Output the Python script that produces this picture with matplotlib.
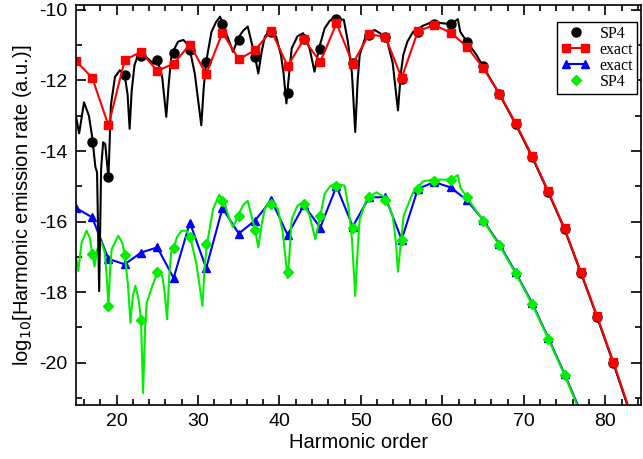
import numpy as np
import matplotlib
matplotlib.use('Agg')
import matplotlib.pyplot as plt
from matplotlib.legend_handler import HandlerLine2D

plt.rcParams['font.family'] = ['Liberation Sans', 'DejaVu Sans']
plt.rcParams['axes.unicode_minus'] = False

# harmonicos impares
orden_rojo = [15, 17, 19, 21, 23, 25, 27, 29, 31, 33, 35, 37, 39, 41, 43, 45, 47, 49,
              51, 53, 55, 57, 59, 61, 63, 65, 67, 69, 71, 73, 75, 77, 79, 81, 83]
exacto_rojo = [-11.45, -11.92, -13.27, -11.42, -11.19, -11.73, -11.52, -10.98, -11.82,
               -10.64, -11.40, -11.14, -10.59, -11.59, -10.83, -11.48, -10.38, -11.52,
               -10.69, -10.76, -11.93, -10.60, -10.43, -10.64, -11.04, -11.64, -12.37,
               -13.21, -14.13, -15.14, -16.19, -17.42, -18.68, -19.98, -21.35]

orden_negro = [17, 19, 21, 23, 25, 27, 29, 31, 33, 35, 37, 39, 41, 43, 45, 47, 49, 51,
               53, 55, 57, 59, 61, 63, 65, 67, 69, 71, 73, 75, 77, 79, 81, 83]
sp4_negro = [-13.73, -14.74, -11.85, -11.30, -11.42, -11.23, -11.14, -11.47, -10.40,
             -10.85, -11.33, -10.62, -12.35, -10.82, -11.11, -10.26, -11.50, -10.70,
             -10.78, -11.95, -10.62, -10.40, -10.40, -10.92, -11.60, -12.39, -13.24,
             -14.16, -15.17, -16.22, -17.45, -18.71, -20.02, -21.40]

# curva continua SP4 (arriba)
x_negro = [15.0, 15.4, 16.0, 16.6, 17.0, 17.4, 17.6, 17.86, 18.1, 18.35, 18.6, 18.85,
           19.0, 19.3, 19.8, 20.4, 21.0, 21.35, 21.6, 21.85, 22.2, 22.6, 23.05, 23.8,
           24.5, 25.0, 25.6, 26.1, 26.4, 26.7, 27.1, 27.55, 28.2, 28.6, 29.0, 29.6,
           30.4, 30.7, 31.0, 31.65, 32.2, 32.7, 33.0, 33.7, 34.3, 34.9, 35.5, 36.1,
           36.55, 37.0, 37.4, 37.8, 38.2, 38.9, 39.6, 40.2, 40.5, 40.85, 41.1, 41.5,
           42.2, 42.9, 43.7, 44.3, 44.85, 45.55, 46.2, 46.8, 47.3, 47.9, 48.4, 48.9,
           49.3, 49.6, 49.85, 50.7, 51.7, 52.7, 53.3, 53.9, 54.55, 54.9, 55.2, 55.7,
           56.4, 57.6, 58.85, 60.1, 61.0, 61.5, 61.9, 62.2, 63.0, 64.2, 65.0, 67.0,
           69.0, 71.0, 73.0, 75.0, 77.0, 79.0, 81.0, 83.0]
y_negro = [-13.0, -13.5, -12.62, -13.0, -13.6, -14.46, -14.6, -17.97, -14.5, -13.75,
           -13.8, -14.4, -14.76, -12.7, -11.9, -11.71, -11.85, -12.4, -13.37, -12.3,
           -11.56, -11.3, -11.23, -11.37, -11.52, -11.42, -11.9, -13.03, -12.1, -11.37,
           -11.1, -10.9, -10.85, -10.95, -11.14, -11.8, -13.27, -12.2, -11.47, -10.62,
           -10.35, -10.19, -10.38, -10.81, -11.19, -10.81, -10.6, -10.47, -10.9, -11.33,
           -11.8, -11.2, -10.76, -10.57, -10.76, -11.3, -11.8, -12.65, -12.0, -11.09,
           -10.75, -10.66, -11.09, -11.75, -11.09, -10.52, -10.3, -10.22, -10.26, -10.28,
           -10.9, -11.8, -13.46, -12.0, -11.28, -10.66, -10.57, -10.71, -10.95, -11.5,
           -12.85, -11.8, -11.28, -10.9, -10.62, -10.45, -10.33, -10.38, -10.40, -10.33,
           -10.26, -10.62, -10.9, -11.28, -11.6, -12.39, -13.24, -14.16, -15.17, -16.22,
           -17.45, -18.71, -20.02, -21.40]

orden_azul = [15, 17, 19, 21, 23, 25, 27, 29, 31, 33, 35, 37, 39, 41, 43, 45, 47, 49,
              51, 53, 55, 57, 59, 61, 63, 65, 67, 69, 71, 73, 75, 77]
exacto_azul = [-15.61, -15.88, -17.06, -17.21, -16.88, -16.73, -17.60, -16.03, -17.32,
               -15.62, -16.34, -15.97, -15.39, -16.38, -15.53, -16.17, -15.00, -16.14,
               -15.31, -15.31, -16.51, -15.07, -14.88, -15.03, -15.39, -15.95, -16.64,
               -17.44, -18.30, -19.29, -20.32, -21.40]

orden_verde = [17, 19, 21, 23, 25, 27, 29, 31, 33, 35, 37, 39, 41, 43, 45, 47, 49, 51,
               53, 55, 57, 59, 61, 63, 65, 67, 69, 71, 73, 75, 77]
sp4_verde = [-16.92, -18.39, -16.94, -18.79, -17.42, -16.76, -16.43, -16.64, -15.41,
             -15.83, -16.23, -15.50, -17.44, -15.50, -15.85, -14.98, -16.19, -15.31,
             -15.39, -16.51, -15.07, -14.84, -14.81, -15.31, -15.97, -16.67, -17.47,
             -18.33, -19.32, -20.35, -21.45]

# curva continua SP4 (abajo)
x_verde = [15.0, 15.3, 15.7, 16.3, 16.7, 17.0, 17.3, 17.6, 18.1, 18.55, 18.8, 19.0,
           19.2, 19.4, 20.2, 20.7, 21.0, 21.4, 21.7, 22.0, 22.3, 22.7, 23.0, 23.25,
           23.5, 23.7, 24.4, 25.1, 25.6, 25.9, 26.2, 26.45, 26.7, 27.0, 27.4, 27.95,
           28.6, 29.2, 29.8, 30.55, 30.8, 31.1, 31.85, 32.6, 33.3, 33.8, 34.3, 34.9,
           35.5, 36.1, 36.55, 37.0, 37.4, 37.8, 38.2, 39.0, 39.8, 40.4, 41.0, 41.2,
           41.5, 42.2, 42.9, 43.7, 44.4, 45.0, 45.55, 46.2, 46.8, 48.0, 48.5, 48.9,
           49.3, 49.6, 49.85, 50.7, 51.9, 52.9, 53.9, 54.3, 54.55, 54.9, 55.25, 56.4,
           57.6, 58.85, 60.1, 61.0, 61.5, 61.9, 62.2, 63.0, 65.0, 67.0, 69.0, 71.0,
           73.0, 75.0, 77.0]
y_verde = [-16.97, -17.40, -16.6, -16.26, -16.45, -16.9, -17.27, -16.8, -16.57, -16.88,
           -17.6, -18.39, -17.4, -16.78, -16.40, -16.6, -16.94, -17.8, -18.87, -18.1,
           -17.82, -18.2, -18.79, -20.86, -19.0, -18.3, -17.82, -17.37, -17.54, -18.0,
           -18.77, -17.6, -16.88, -16.76, -16.45, -16.26, -16.26, -16.59, -17.2, -18.39,
           -17.3, -16.64, -15.64, -15.24, -15.5, -15.9, -16.16, -15.83, -15.55, -15.41,
           -15.83, -16.23, -16.73, -16.1, -15.64, -15.43, -15.64, -16.3, -17.6, -17.0,
           -15.93, -15.55, -15.45, -15.83, -16.5, -15.85, -15.21, -15.0, -14.93, -14.98,
           -15.64, -16.5, -18.11, -16.8, -15.93, -15.36, -15.17, -15.31, -15.83, -16.6,
           -17.42, -16.6, -15.83, -15.17, -14.86, -14.81, -14.81, -14.81, -14.74, -14.68,
           -15.03, -15.31, -15.97, -16.67, -17.47, -18.33, -19.32, -20.35, -21.45]

fig = plt.figure(figsize=(6.43, 4.59), dpi=100)
ax = fig.add_axes([0.118, 0.1176, 0.879, 0.8715])

# abajo
azul, = ax.plot(orden_azul, exacto_azul, color='#0000ff', lw=1.5, marker='^', ms=6, label='exact')
ax.plot(x_verde, y_verde, color='#00ee00', lw=1.5)
verde, = ax.plot(orden_verde, sp4_verde, ls='none', color='#00ee00', marker='D', ms=5, label='SP4')

# arriba
ax.plot(x_negro, y_negro, color='black', lw=1.5)
negro, = ax.plot(orden_negro, sp4_negro, ls='none', color='black', marker='o', ms=6.5, label='SP4')
rojo, = ax.plot(orden_rojo, exacto_rojo, color='#ff0000', lw=1.5, marker='s', ms=6, label='exact')

ax.set_xlim(15, 84.4)
ax.set_ylim(-21.2, -9.86)
ax.set_xticks([20, 30, 40, 50, 60, 70, 80])
ax.set_xticks(np.arange(16, 85, 2), minor=True)
ax.set_yticks([-20, -18, -16, -14, -12, -10])
ax.set_yticks(np.arange(-21, -9.5, 1), minor=True)
ax.tick_params(which='both', direction='in', top=True, right=True, width=1.2)
ax.tick_params(which='major', length=7, labelsize=14, pad=6)
ax.tick_params(which='minor', length=4)
for s in ax.spines.values():
    s.set_linewidth(1.2)

ax.set_xlabel('Harmonic order', fontsize=14.5, labelpad=2)
ax.set_ylabel('log$_{10}$[Harmonic emission rate (a.u.)]', fontsize=14.5, labelpad=4)

leg = ax.legend([negro, rojo, azul, verde], ['SP4', 'exact', 'exact', 'SP4'],
                loc='upper right', bbox_to_anchor=(0.993, 0.9575), borderaxespad=0,
                numpoints=1, handler_map={rojo: HandlerLine2D(numpoints=2),
                                          azul: HandlerLine2D(numpoints=2)},
                prop={'family': 'Liberation Serif', 'size': 11.5},
                fancybox=False, edgecolor='black', framealpha=1,
                handlelength=1.8, handletextpad=0.6, labelspacing=0.0, borderpad=0.25)
leg.get_frame().set_linewidth(1.0)

fig.savefig('out.png', dpi=100)
